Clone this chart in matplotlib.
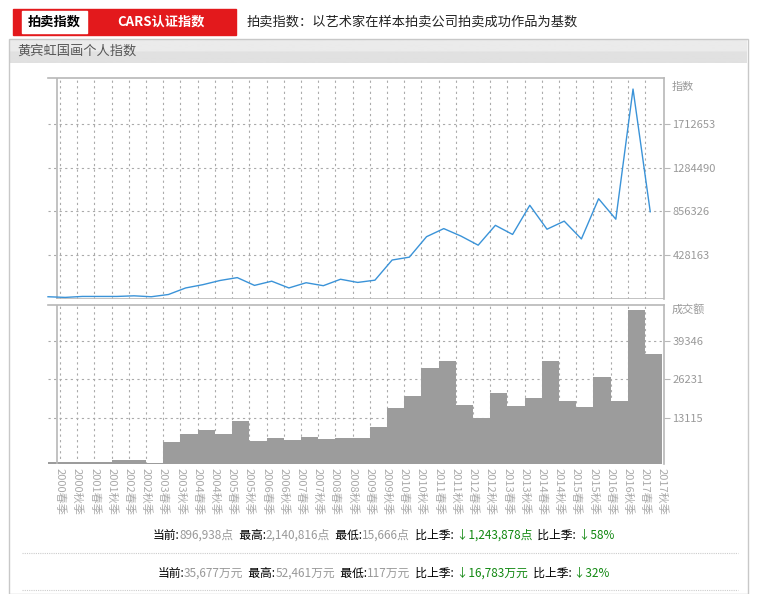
import matplotlib
matplotlib.use("Agg")
import matplotlib.pyplot as plt
from matplotlib.patches import Rectangle
from matplotlib.lines import Line2D
import numpy as np

plt.rcParams['font.family'] = ['Noto Sans CJK SC', 'DejaVu Sans']

years = list(range(2000, 2018))
categories = [f"{y}{s}" for y in years for s in ("春季", "秋季")]
index_values = [22000, 15666, 25000, 25000, 25000, 31000, 22000, 44000, 108000, 140000,
                181000, 209000, 133000, 174000, 108000, 159000, 130000, 193000, 162000, 184000,
                381000, 409000, 609000, 688000, 615000, 526000, 720000, 631000, 916000, 682000,
                761000, 587000, 980000, 780000, 2052000, 853000]
volume_values = [-2100, -2100, -2100, -2100, -1500, -1500, -2200, 4900, 7700, 8800,
                 7600, 11900, 5200, 6100, 5600, 6400, 5900, 6100, 6100, 10100,
                 16300, 20500, 30100, 32400, 17400, 13000, 21500, 17200, 20000, 32400,
                 19000, 16900, 27000, 18700, 49900, 34900]
index_ticks = [428163, 856326, 1284490, 1712653]
volume_ticks = [13115, 26231, 39346]

W, H = 763, 594
fig = plt.figure(figsize=(W/100, H/100), dpi=100)

def fx(x): return x / W
def fy(y): return 1 - y / H

grey = '#999999'
frame = '#b8b8b8'

# header
fig.patches.append(Rectangle((fx(13), fy(35)), fx(223), 26/H, transform=fig.transFigure, color='#e3191c', zorder=1))
fig.patches.append(Rectangle((fx(22), fy(33)), fx(65), 22/H, transform=fig.transFigure, color='white', zorder=2))
fig.text(fx(54.5), fy(22), "拍卖指数", ha='center', va='center', fontsize=9.5, fontweight='bold', color='black', zorder=3)
fig.text(fx(161), fy(22), "CARS认证指数", ha='center', va='center', fontsize=9.5, fontweight='bold', color='white', zorder=3)
fig.text(fx(247), fy(22), "拍卖指数：以艺术家在样本拍卖公司拍卖成功作品为基数", ha='left', va='center', fontsize=9.5, color='#222222')

# box
fig.patches.append(Rectangle((fx(9), fy(594)), fx(739), 555/H, transform=fig.transFigure, fill=False, edgecolor='#c8c8c8', lw=1))
axg = fig.add_axes([fx(10), fy(63), fx(737), 23/H])
axg.imshow(np.vstack([np.full((12, 1), 0.92), np.full((12, 1), 0.88)]), cmap='gray', vmin=0, vmax=1, aspect='auto')
axg.axis('off')
fig.text(fx(17), fy(51), "黄宾虹国画个人指数", ha='left', va='center', fontsize=9.5, color='#555555')

n = len(categories)
k = np.arange(n)
grid_pos = np.arange(n - 1) + 0.7
xmax = 35.8

def style(ax, ticks, ylim, title, title_y):
    ax.set_xlim(0, xmax)
    ax.set_ylim(*ylim)
    for s in ('left', 'bottom'):
        ax.spines[s].set_visible(False)
    for s in ('top', 'right'):
        ax.spines[s].set_color(frame)
        ax.spines[s].set_linewidth(1.2)
    ax.yaxis.tick_right()
    ax.set_yticks(ticks)
    ax.set_yticklabels([str(t) for t in ticks], fontsize=8, color=grey)
    ax.tick_params(axis='y', length=4, color=frame, pad=2)
    for g in grid_pos:
        ax.axvline(g, color='#aaaaaa', ls=(0, (2, 3)), lw=0.8, zorder=0)
    for t in ticks:
        ax.axhline(t, color='#aaaaaa', ls=(0, (2, 3)), lw=0.8, zorder=0)
    ax.axvline(0.52, color=frame, lw=1.2, zorder=3)
    ax.text(1.012, title_y, title, transform=ax.transAxes, fontsize=8, color=grey, ha='left', va='center')

# top chart
ax1 = fig.add_axes([fx(48), fy(299), fx(616), 221/H])
style(ax1, index_ticks, (0, 2160000), "指数", (299-87)/221)
ax1.plot(k, index_values, color='#3a93d8', lw=1, zorder=4, clip_on=False)
ax1.axhline(0, color=frame, lw=1.2, xmin=0.52/xmax)
ax1.set_xticks([])

# bottom chart
base = -2700
ax2 = fig.add_axes([fx(48), fy(464), fx(616), 159/H])
style(ax2, volume_ticks, (base, 51700), "成交额", (464-309)/159)
ax2.bar(k - 0.3, np.array(volume_values) - base, bottom=base, width=1.0, align='edge', color='#9c9c9c', zorder=2)
ax2.set_xticks(k + 0.7)
ax2.set_xticklabels(categories, rotation=-90, fontsize=8, color='#aaaaaa')
ax2.tick_params(axis='x', length=0, pad=3)
for lab in ax2.get_xticklabels():
    lab.set_ha('center'); lab.set_va('top')

# summary lines
def rich_line(y, parts):
    fig.canvas.draw()
    r = fig.canvas.get_renderer()
    objs = []
    x = 0
    for txt, col in parts:
        t = fig.text(0, fy(y), txt, fontsize=8.5, color=col, ha='left', va='center')
        w = t.get_window_extent(r).width
        objs.append((t, x))
        x += w
    start = (W * 0.5 + 2) - x / 2
    for t, off in objs:
        t.set_x((start + off) / W)

green = '#118811'
rich_line(535, [("当前:", 'black'), ("896,938点", grey), ("  最高:", 'black'), ("2,140,816点", grey),
                ("  最低:", 'black'), ("15,666点", grey), ("  比上季:", 'black'), (" ↓1,243,878点", green),
                ("  比上季:", 'black'), (" ↓58%", green)])
rich_line(573, [("当前:", 'black'), ("35,677万元", grey), ("  最高:", 'black'), ("52,461万元", grey),
                ("  最低:", 'black'), ("117万元", grey), ("  比上季:", 'black'), (" ↓16,783万元", green),
                ("  比上季:", 'black'), (" ↓32%", green)])
for yy in (553, 590):
    fig.lines.append(Line2D([fx(22), fx(738)], [fy(yy), fy(yy)], transform=fig.transFigure, color='#cccccc', ls=(0, (1, 1)), lw=0.8))

fig.savefig("out.png", dpi=100)
